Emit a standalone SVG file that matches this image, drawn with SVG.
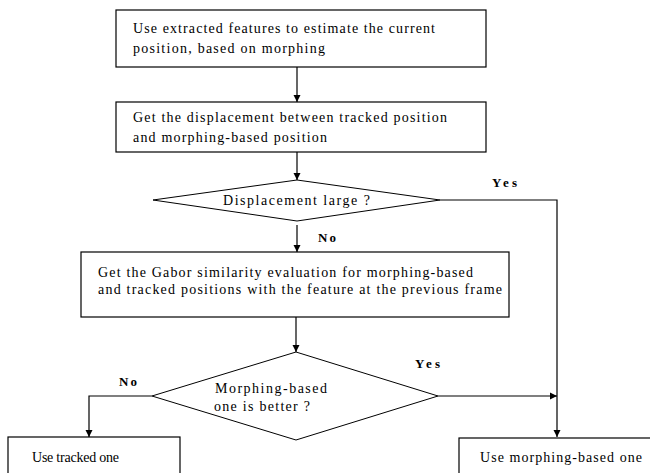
<svg xmlns="http://www.w3.org/2000/svg" width="650" height="473" viewBox="0 0 650 473">
  <style>
    .box { fill: #ffffff; stroke: #000000; stroke-width: 1.2; }
    .dia { fill: #ffffff; stroke: #000000; stroke-width: 1; }
    .txt { font-family: "Liberation Serif", "Times New Roman", "DejaVu Serif", serif; font-size: 14px; fill: #000000; }
    .lbl { font-family: "Liberation Serif", "Times New Roman", "DejaVu Serif", serif; font-size: 13px; font-weight: bold; fill: #000000; }
    .edge { fill: none; stroke: #000000; stroke-width: 1.2; }
  </style>
  <defs>
    <marker id="arrow" markerWidth="8" markerHeight="8" refX="7" refY="4" orient="auto" markerUnits="userSpaceOnUse">
      <path d="M0,0.5 L7,4 L0,7.5 Z" fill="#000000"/>
    </marker>
  </defs>
  <rect width="650" height="473" fill="#ffffff"/>

  <g id="connectors">
    <line class="edge" x1="297" y1="67" x2="297" y2="102" marker-end="url(#arrow)"/>
    <line class="edge" x1="297" y1="152" x2="297" y2="180" marker-end="url(#arrow)"/>
    <line class="edge" x1="297" y1="225" x2="297" y2="252" marker-end="url(#arrow)"/>
    <polyline class="edge" points="440,200 557,200 557,437" marker-end="url(#arrow)"/>
    <line class="edge" x1="296" y1="317" x2="296" y2="352" marker-end="url(#arrow)"/>
    <line class="edge" x1="438" y1="396" x2="557" y2="396" marker-end="url(#arrow)"/>
    <polyline class="edge" points="152,396 89,396 89,437" marker-end="url(#arrow)"/>
  </g>

  <g id="estimate">
    <rect class="box" x="116" y="10" width="370" height="57"/>
    <text class="txt" x="133" y="33" textLength="302" lengthAdjust="spacing">Use extracted features to estimate the current</text>
    <text class="txt" x="133" y="53" textLength="192" lengthAdjust="spacing">position, based on  morphing</text>
  </g>

  <g id="displacement">
    <rect class="box" x="116" y="102" width="370" height="50"/>
    <text class="txt" x="133" y="122" textLength="314" lengthAdjust="spacing">Get the displacement  between tracked position</text>
    <text class="txt" x="133" y="142" textLength="194" lengthAdjust="spacing">and  morphing-based position</text>
  </g>

  <g id="large">
    <polygon class="dia" points="297,180 440,200 297,221 153,200"/>
    <text class="txt" x="223" y="205" textLength="147" lengthAdjust="spacing">Displacement large ?</text>
  </g>

  <g id="gabor">
    <rect class="box" x="81" y="252" width="428" height="65"/>
    <text class="txt" x="98" y="277" textLength="375" lengthAdjust="spacing">Get the  Gabor similarity evaluation for  morphing-based</text>
    <text class="txt" x="98" y="294" textLength="404" lengthAdjust="spacing">and tracked positions with the feature at the previous frame</text>
  </g>

  <g id="better">
    <polygon class="dia" points="296,352 438,396 296,440 152,396"/>
    <text class="txt" x="215" y="393" textLength="112" lengthAdjust="spacing">Morphing-based</text>
    <text class="txt" x="214" y="411" textLength="96" lengthAdjust="spacing">one  is better ?</text>
  </g>

  <g id="tracked">
    <rect class="box" x="8" y="437" width="172" height="50"/>
    <text class="txt" x="32" y="462" textLength="87" lengthAdjust="spacing">Use tracked one</text>
  </g>

  <g id="morphing">
    <rect class="box" x="459" y="438" width="200" height="50"/>
    <text class="txt" x="480" y="462" textLength="162" lengthAdjust="spacing">Use  morphing-based one</text>
  </g>

  <g id="labels">
    <text class="lbl" x="492" y="187" textLength="25" lengthAdjust="spacing">Yes</text>
    <text class="lbl" x="318" y="242" textLength="18" lengthAdjust="spacing">No</text>
    <text class="lbl" x="415" y="368" textLength="25" lengthAdjust="spacing">Yes</text>
    <text class="lbl" x="119" y="386" textLength="18" lengthAdjust="spacing">No</text>
  </g>
</svg>
